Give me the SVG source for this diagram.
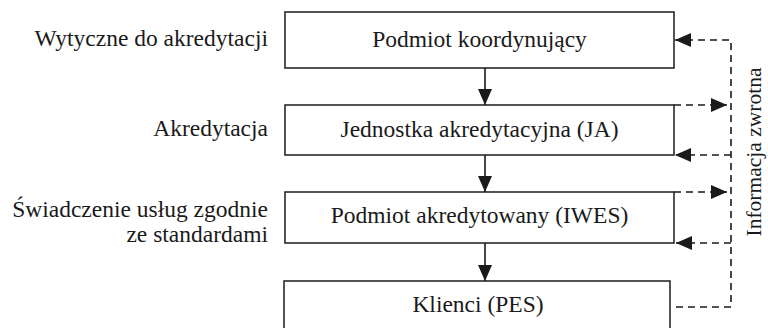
<svg xmlns="http://www.w3.org/2000/svg" width="768" height="328" viewBox="0 0 768 328">
<defs>
<style>
.box{fill:#ffffff;stroke:#2a2a2a;stroke-width:1.6}
.t{font-family:"Liberation Serif","Times New Roman",serif;font-size:23.5px;fill:#1a1a1a}
.c{text-anchor:middle}
.r{text-anchor:end}
.solid{fill:none;stroke:#1a1a1a;stroke-width:1.6}
.dash{fill:none;stroke:#1a1a1a;stroke-width:1.6;stroke-dasharray:7 5}
</style>
<marker id="ah" viewBox="0 0 16 14" refX="16" refY="7" markerWidth="16" markerHeight="14" markerUnits="userSpaceOnUse" orient="auto">
<path d="M0,0 L16,7 L0,14 z" fill="#1a1a1a"/>
</marker>
</defs>
<rect width="768" height="328" fill="#ffffff"/>
<g id="labels">
<text class="t r" x="268" y="46">Wytyczne do akredytacji</text>
<text class="t r" x="268" y="136">Akredytacja</text>
<text class="t r" x="268" y="217">Świadczenie usług zgodnie</text>
<text class="t r" x="268" y="242">ze standardami</text>
</g>
<g id="node-koordynujacy">
<rect class="box" x="285" y="12" width="389" height="56"/>
<text class="t c" x="479.5" y="47">Podmiot koordynujący</text>
</g>
<g id="node-ja">
<rect class="box" x="285" y="105" width="389" height="50"/>
<text class="t c" x="479.5" y="137">Jednostka akredytacyjna (JA)</text>
</g>
<g id="node-iwes">
<rect class="box" x="285" y="192" width="389" height="51"/>
<text class="t c" x="479.5" y="223">Podmiot akredytowany (IWES)</text>
</g>
<g id="node-pes">
<rect class="box" x="284" y="281" width="386" height="60"/>
<text class="t c" x="478" y="312">Klienci (PES)</text>
</g>
<g id="connectors">
<path class="solid" d="M485,68 V105" marker-end="url(#ah)"/>
<path class="solid" d="M485,155 V192" marker-end="url(#ah)"/>
<path class="solid" d="M485,243 V281" marker-end="url(#ah)"/>
<path class="dash" d="M676,307 H731 V40 H675" marker-end="url(#ah)"/>
<path class="dash" d="M731,155 H675" marker-end="url(#ah)"/>
<path class="dash" d="M731,243 H676" marker-end="url(#ah)"/>
<path class="dash" d="M674,105 H727" marker-end="url(#ah)"/>
<path class="dash" d="M674,192 H727" marker-end="url(#ah)"/>
</g>
<g id="feedback-label">
<text class="t c" style="font-size:21.5px" transform="translate(761,152) rotate(-90)">Informacja zwrotna</text>
</g>
</svg>
